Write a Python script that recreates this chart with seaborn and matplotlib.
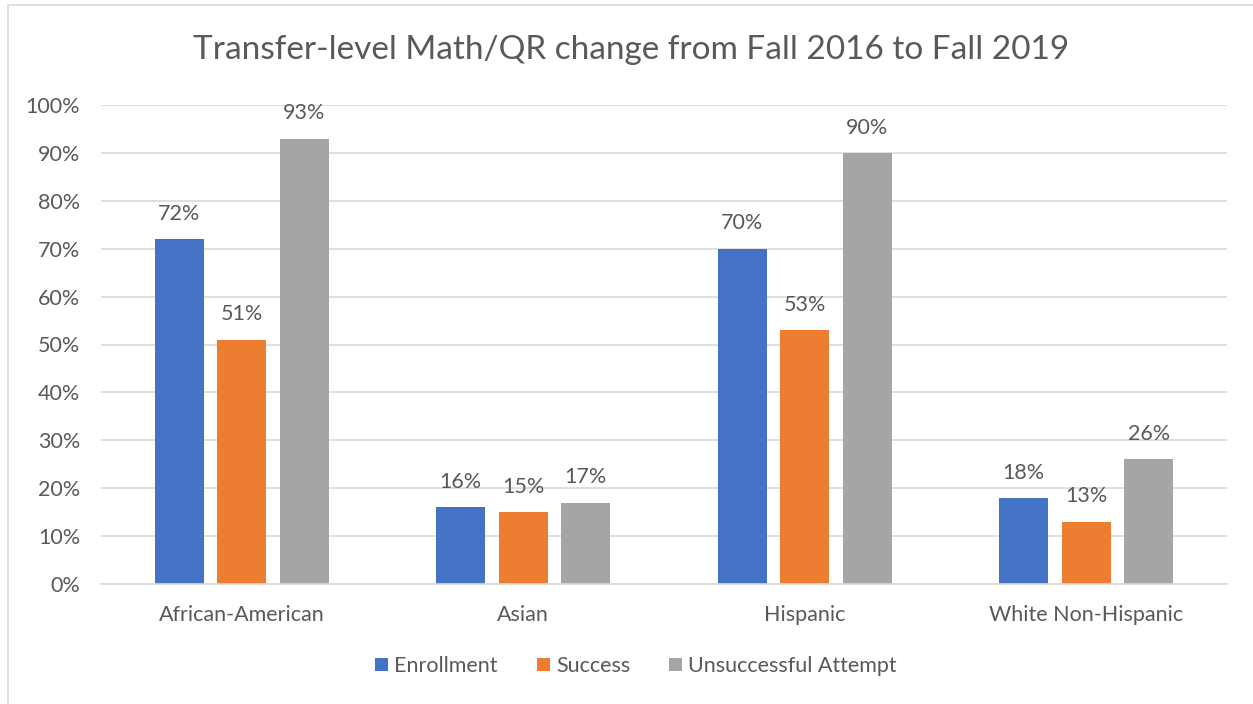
import matplotlib
matplotlib.use("Agg")
import matplotlib.pyplot as plt
import seaborn as sns
import pandas as pd
from matplotlib.patches import Rectangle
from matplotlib.ticker import PercentFormatter

categories = ["African-American", "Asian", "Hispanic", "White Non-Hispanic"]
series_names = ["Enrollment", "Success", "Unsuccessful Attempt"]
enrollment = [72, 16, 70, 18]
success = [51, 15, 53, 13]
unsuccessful = [93, 17, 90, 26]
colors = ["#4472C4", "#ED7D31", "#A5A5A5"]

rows = []
for name, vals in zip(series_names, [enrollment, success, unsuccessful]):
    for c, v in zip(categories, vals):
        rows.append({"Group": c, "Series": name, "Value": v / 100})
df = pd.DataFrame(rows)

sns.set_theme(style="white")
plt.rcParams['font.family'] = ['Lato', 'DejaVu Sans']
txt = "#595959"

fig = plt.figure(figsize=(12.53, 7.04), dpi=100)
ax = fig.add_axes([101/1253, 1-584/704, 1126/1253, 479/704])

sns.barplot(data=df, x="Group", y="Value", hue="Series", order=categories,
            hue_order=series_names, palette=colors, width=0.667, gap=0.216,
            saturation=1, ax=ax, legend=True, linewidth=0)

ax.set_xlim(-0.5, 3.5)
ax.set_ylim(0, 1.0)
ax.set_yticks([i/10 for i in range(11)])
ax.yaxis.set_major_formatter(PercentFormatter(1.0, decimals=0))
ax.grid(axis="y", color="#D9D9D9", linewidth=1.2)
ax.set_axisbelow(True)
for s in ["top", "right", "left"]:
    ax.spines[s].set_visible(False)
ax.spines["bottom"].set_color("#D9D9D9")
ax.spines["bottom"].set_linewidth(1.2)
ax.tick_params(axis="y", length=0, labelsize=15.5, colors=txt, pad=15)
ax.tick_params(axis="x", length=0, labelsize=15.5, colors=txt, pad=15)
ax.set_xlabel("")
ax.set_ylabel("")

for cont in ax.containers:
    ax.bar_label(cont, labels=[f"{v*100:.0f}%" for v in cont.datavalues],
                 padding=11, fontsize=15.5, color=txt)

fig.text(631/1253, 1-50/704, "Transfer-level Math/QR change from Fall 2016 to Fall 2019",
         fontsize=24, color=txt, ha="center", va="center")

leg = ax.get_legend()
handles, labels = ax.get_legend_handles_labels()
leg.remove()
fig.legend(handles, labels, loc="center", bbox_to_anchor=(636/1253, 1-666/704),
           ncol=3, frameon=False, fontsize=15.5, labelcolor=txt,
           handlelength=0.6, handleheight=0.6, handletextpad=0.3, columnspacing=1.8)

fig.add_artist(Rectangle((8/1253, -0.01), 1.02, (704-5)/704 + 0.01,
                         transform=fig.transFigure, fill=False,
                         edgecolor="#D9D9D9", linewidth=1.2))

fig.savefig("out.png", dpi=100, facecolor="white")
